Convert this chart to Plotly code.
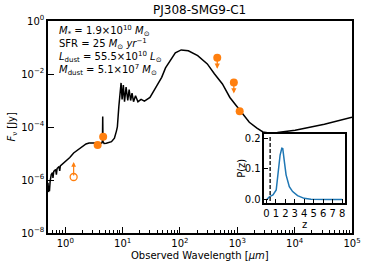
import numpy as np
import plotly.graph_objects as go

# ---------------- data ----------------
sed_wave = [0.50, 0.51, 0.52, 0.53, 0.545, 0.57, 0.60, 0.61, 0.63, 0.68, 0.70, 0.72,
            0.78, 0.80, 0.82, 0.90, 1.0, 1.2, 1.4, 1.7, 2.0, 2.3, 2.6, 3.5, 3.9, 4.35,
            4.45, 4.5, 4.55, 4.75, 5.2, 6.4, 7.2, 7.8, 8.1, 8.6, 9.1, 9.4, 9.8, 10.3,
            10.8, 11.5, 12.3, 13.0, 13.8, 14.6, 15.5, 16.8, 18.5, 21, 24, 30, 38, 48,
            56, 70, 83, 105, 140, 204, 300, 398, 550, 742, 1100, 1620, 2200, 2800,
            3550, 5000, 10200, 33000, 100000]
sed_flux = [7.9e-7, 3.5e-7, 6.0e-7, 3.8e-7, 9.0e-7, 1.6e-6, 1.9e-6, 1.2e-6, 2.1e-6, 2.5e-6, 1.6e-6, 2.7e-6,
            3.2e-6, 2.2e-6, 3.4e-6, 4.1e-6, 4.8e-6, 7.1e-6, 1.05e-5, 1.4e-5, 1.9e-5, 2.3e-5, 2.5e-5, 2.5e-5, 2.3e-5, 2.5e-5,
            3.0e-5, 2.5e-4, 2.8e-5, 2.4e-5, 2.45e-5, 2.8e-5, 3.8e-5, 7.0e-5, 1.0e-4, 6.0e-4, 2.5e-3, 4.6e-3, 1.1e-3, 3.8e-3,
            9.0e-4, 3.2e-3, 1.0e-3, 2.6e-3, 1.0e-3, 1.9e-3, 9.0e-4, 1.5e-3, 9.0e-4, 1.1e-3, 9.5e-4, 1.3e-3, 3.1e-3, 7.5e-3,
            1.7e-2, 3.8e-2, 6.3e-2, 8.1e-2, 7.5e-2, 4.9e-2, 2.4e-2, 1.02e-2, 4.2e-3, 1.3e-3, 4.3e-4, 1.5e-4, 9.0e-5, 6.5e-5,
            5.9e-5, 6.2e-5, 7.6e-5, 1.26e-4, 2.35e-4]

det_wave = [3.67, 4.58, 1100]
det_flux = [2.1e-5, 4.3e-5, 3.9e-4]

ul_wave = [447, 870]
ul_flux = [0.041, 0.0048]

ll_wave = [1.4]
ll_flux = [1.3e-6]

pz_z = [0.05, 0.1, 0.35, 0.7, 1.04, 1.2, 1.45, 1.63, 1.73, 1.9, 2.08, 2.42, 2.77, 3.29, 3.98, 4.7, 5.5, 6.5, 7.5, 8.0]
pz_p = [0.0, 0.003, 0.011, 0.016, 0.032, 0.081, 0.145, 0.167, 0.166, 0.124, 0.081, 0.043, 0.027, 0.014, 0.005, 0.002, 0.001, 0.001, 0.001, 0.001]
z_line = 0.4

x_tickvals = [1, 10, 100, 1000, 10000, 100000]
x_ticktext = ["10<sup>0</sup>", "10<sup>1</sup>", "10<sup>2</sup>", "10<sup>3</sup>", "10<sup>4</sup>", "10<sup>5</sup>"]
y_tickvals = [1, 1e-2, 1e-4, 1e-6, 1e-8]
y_ticktext = ["10<sup>0</sup>", "10<sup>−2</sup>", "10<sup>−4</sup>", "10<sup>−6</sup>", "10<sup>−8</sup>"]

info_lines = [
    "<i>M</i><sub>*</sub> = 1.9×10<sup>10</sup> <i>M</i><sub>⊙</sub>",
    "SFR = 25 <i>M</i><sub>⊙</sub> <i>yr</i><sup>−1</sup>",
    "<i>L</i><sub>dust</sub> = 55.5×10<sup>10</sup> <i>L</i><sub>⊙</sub>",
    "<i>M</i><sub>dust</sub> = 5.1×10<sup>7</sup> <i>M</i><sub>⊙</sub>",
]

ORANGE = "#ff7f0e"
FONT = "DejaVu Sans"

fig = go.Figure()
fig.add_trace(go.Scatter(x=sed_wave, y=sed_flux, mode="lines",
                         line=dict(color="black", width=1.5), xaxis="x", yaxis="y"))
fig.add_trace(go.Scatter(x=det_wave, y=det_flux, mode="markers",
                         marker=dict(color=ORANGE, size=8, line=dict(width=0)), xaxis="x", yaxis="y"))
fig.add_trace(go.Scatter(x=ul_wave, y=ul_flux, mode="markers",
                         marker=dict(color=ORANGE, size=8, line=dict(width=0)), xaxis="x", yaxis="y"))
fig.add_trace(go.Scatter(x=ll_wave, y=ll_flux, mode="markers",
                         marker=dict(color=ORANGE, size=7, symbol="circle-open", line=dict(width=1.3, color=ORANGE)),
                         xaxis="x", yaxis="y"))

annotations = []
for w, f in zip(ul_wave, ul_flux):
    annotations.append(dict(x=np.log10(w), y=np.log10(f), xref="x", yref="y", showarrow=True,
                            ax=0, ay=-11, yshift=-11, arrowhead=2, arrowsize=0.8, arrowwidth=1.3,
                            arrowcolor=ORANGE, text=""))
for w, f in zip(ll_wave, ll_flux):
    annotations.append(dict(x=np.log10(w), y=np.log10(f), xref="x", yref="y", showarrow=True,
                            ax=0, ay=15, yshift=15, arrowhead=2, arrowsize=0.8, arrowwidth=1.2,
                            arrowcolor=ORANGE, text=""))

# inset
fig.add_trace(go.Scatter(x=pz_z, y=pz_p, mode="lines", line=dict(color="#1f77b4", width=1.5),
                         xaxis="x2", yaxis="y2"))
fig.add_shape(type="line", xref="x2", yref="y2 domain", x0=z_line, x1=z_line, y0=0.03, y1=0.97,
              line=dict(color="black", width=1.3, dash="4px,2px"))

W, H = 373, 269
L, R, T, B = 48, 16, 21, 36
def px(xp):
    return (xp - L) / (W - L - R)
def py(yp):
    return 1 - (yp - T) / (H - T - B)

def text_ann(xp, yp, text, size=10, angle=0, xanchor="center"):
    return dict(x=px(xp), y=py(yp), xref="paper", yref="paper", text=text, showarrow=False,
                xanchor=xanchor, yanchor="middle", textangle=angle,
                font=dict(size=size, color="black", family=FONT))

for i, t in enumerate(info_lines):
    annotations.append(text_ann(57, 31 + 13 * i, t, xanchor="left"))

annotations.append(text_ann(203, 256, "Observed Wavelength [<i>µm</i>]"))
annotations.append(text_ann(11, 127, "<i>F</i><sub>ν</sub> [Jy]", angle=-90))
annotations.append(text_ann(202, 10, "PJ308-SMG9-C1", size=12))
annotations.append(text_ann(244, 168, "P(z)", angle=-90))
annotations.append(text_ann(309, 224, "z"))

minor_vals = [m * 10.0 ** k for k in range(-1, 5) for m in range(2, 10) if 0.5 <= m * 10.0 ** k <= 1e5]

axis_common = dict(showline=True, linecolor="black", linewidth=1.5, mirror=True, showgrid=False,
                   zeroline=False, ticks="inside", tickcolor="black", tickwidth=1,
                   tickfont=dict(size=10, color="black", family=FONT))

fig.update_layout(
    width=W, height=H, margin=dict(l=L, r=R, t=T, b=B),
    paper_bgcolor="white", plot_bgcolor="white", showlegend=False,
    font=dict(family=FONT, color="black"),
    xaxis=dict(type="log", range=[np.log10(0.5), 5], tickvals=x_tickvals, ticktext=x_ticktext,
               ticklen=6, minor=dict(tickvals=minor_vals, ticks="inside", ticklen=3, tickcolor="black"),
               **axis_common),
    yaxis=dict(type="log", range=[-8, 0], tickvals=y_tickvals, ticktext=y_ticktext, ticklen=6,
               **axis_common),
    xaxis2=dict(domain=[px(268), px(350)], anchor="y2", range=[-0.2, 8.3], tickvals=list(range(0, 9)),
                ticklen=4, **axis_common),
    yaxis2=dict(domain=[py(203), py(134)], anchor="x2", range=[-0.01, 0.213], tickvals=[0, 0.1, 0.2],
                ticktext=["0.0", "0.1", "0.2"], ticklen=4, **axis_common),
    annotations=annotations,
)

fig.write_html("out.html", config={"displayModeBar": False},
               post_script="document.body.style.margin='0';document.body.style.padding='0';")
